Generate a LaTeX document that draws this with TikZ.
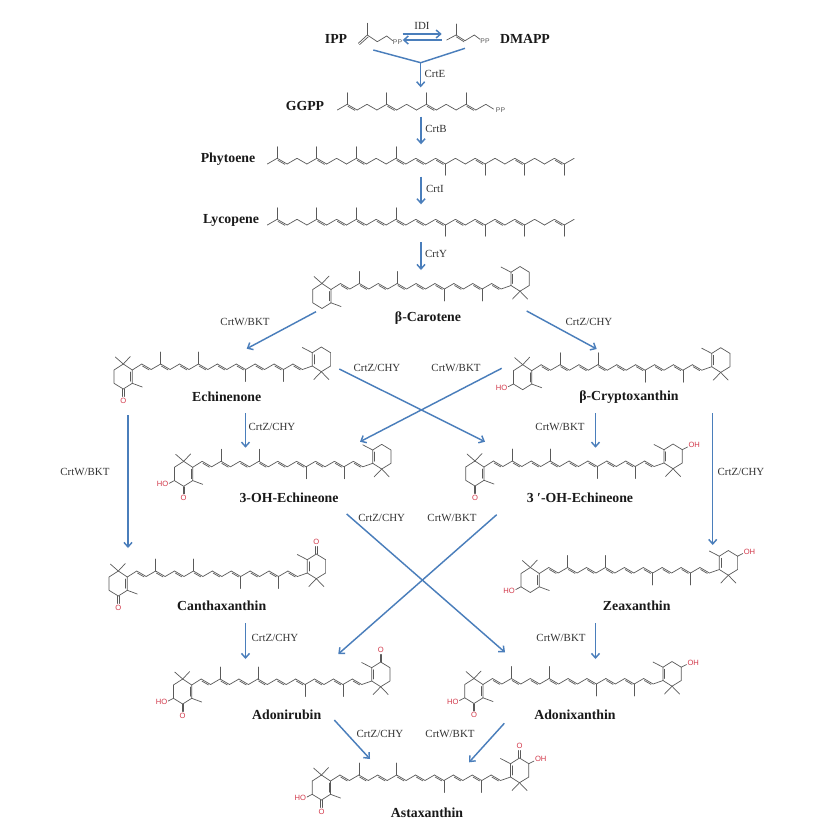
\documentclass[tikz,border=0pt]{standalone}
\usepackage{fontspec}
\setmainfont{Liberation Serif}
\newfontfamily\atomfont{Liberation Sans}
\usetikzlibrary{arrows.meta}
\definecolor{bondgrey}{HTML}{5A5A5A}
\definecolor{flowblue}{HTML}{4A7EBB}
\definecolor{atomred}{HTML}{D2384A}
\tikzset{
  x=1pt,y=-1pt,
  bond/.style={draw=bondgrey,line width=0.7pt,line cap=round,line join=round},
  flowline/.style={draw=flowblue,line width=1.45pt},
  flowarrow/.style={flowline,-{Straight Barb[length=4.5pt,width=8pt,line width=1.45pt]}},
  enz/.style={font=\fontsize{10.9}{12}\selectfont,text=black!80,inner sep=0pt},
  mol/.style={font=\bfseries\fontsize{13.8}{15}\selectfont,text=black!90,inner sep=0pt},
  atom/.style={font=\atomfont\fontsize{7.6}{9}\selectfont,text=atomred,inner sep=0pt},
  ppn/.style={font=\atomfont\fontsize{6.8}{8}\selectfont,text=bondgrey,inner sep=0pt},
}
% arrow between named end points
\newcommand\flow[5]{\coordinate (#1s) at (#2,#3);\coordinate (#1e) at (#4,#5);\draw[flowarrow] (#1s) -- (#1e);}
% carotenoid: name, x, y, left C=O, left OH, right C=O, right OH
\newcommand\carot[7]{%
\begin{scope}[shift={(#2,#3)}]
  % polyene chain
  \draw[bond] (0,0) -- (9.45,-6);
  \foreach \i in {1,3,...,17}{%
    \pgfmathsetmacro\xa{\i*9.45}%
    \pgfmathsetmacro\xb{(\i+1)*9.45}%
    \pgfmathsetmacro\xc{(\i+2)*9.45}%
    \pgfmathsetmacro\ye{\i==17?-4:-6}%
    \pgfmathsetmacro\xe{\i==17?180:\xc}%
    \draw[bond] (\xa,-6) -- (\xb,-0.5) -- (\xe,\ye);
    \draw[bond] (\xa+0.72,-3.97) -- (\xa+7.33,-0.12);
  }
  \foreach \i in {3,7}{\draw[bond] (\i*9.45,-6) -- (\i*9.45,-18);}
  \foreach \i in {12,16}{\draw[bond] (\i*9.45,-0.5) -- (\i*9.45,11.5);}
  % left ring
  \draw[bond] (0,0) -- (-9,-6) -- (-18.3,0) -- (-18.3,13.3) -- (-9,19) -- (0,13.3) -- cycle;
  \draw[bond] (-1.6,2) -- (-1.6,11.3);
  \draw[bond] (0,13.3) -- (10,17);
  \draw[bond] (-9,-6) -- (-17,-13);
  \draw[bond] (-9,-6) -- (-2,-13.5);
  \ifnum#4=1
    \draw[bond] (-9.8,19.4) -- (-9.8,26.5);
    \draw[bond] (-8.2,19.4) -- (-8.2,26.5);
    \node[atom] (#1-lo) at (-9,30.8) {O};
  \fi
  \ifnum#5=1
    \draw[bond] (-18.3,13.3) -- (-23.5,16);
    \node[atom] (#1-loh) at (-30.2,17) {HO};
  \fi
  % right ring
  \draw[bond] (180,-4) -- (189,1.7) -- (198.3,-4) -- (198.3,-17.3) -- (189,-23) -- (180,-17.3) -- cycle;
  \draw[bond] (181.6,-6) -- (181.6,-15.3);
  \draw[bond] (180,-17.3) -- (170,-22.5);
  \draw[bond] (189,1.7) -- (181.5,9.5);
  \draw[bond] (189,1.7) -- (196.5,9.5);
  \ifnum#6=1
    \draw[bond] (188.2,-23.4) -- (188.2,-30.5);
    \draw[bond] (189.8,-23.4) -- (189.8,-30.5);
    \node[atom] (#1-ro) at (189,-34.8) {O};
  \fi
  \ifnum#7=1
    \draw[bond] (198.3,-17.3) -- (203.5,-20);
    \node[atom] (#1-roh) at (210.2,-22) {OH};
  \fi
\end{scope}}
% open chain: x0, y of high atoms, last index, double-bond atoms, methyls up, methyls down
\newcommand\zigzag[6]{%
\begin{scope}[shift={(#1,#2)}]
  \foreach \i in {1,...,#3}{%
    \pgfmathsetmacro\xa{(\i-1)*9.9}%
    \pgfmathsetmacro\xb{\i*9.9}%
    \pgfmathsetmacro\ya{mod(\i,2)==1?5.7:0}%
    \pgfmathsetmacro\yb{mod(\i,2)==1?0:5.7}%
    \draw[bond] (\xa,\ya) -- (\xb,\yb);
  }
  \foreach \i in {#4}{\draw[bond] (\i*9.9+0.78,2.05) -- (\i*9.9+7.7,6.05);}
  \foreach \i in {#5}{\draw[bond] (\i*9.9,0) -- (\i*9.9,-11.5);}
  \foreach \i in {#6}{\draw[bond] (\i*9.9,5.7) -- (\i*9.9,17);}
\end{scope}}
\begin{document}
\begin{tikzpicture}
\useasboundingbox[fill=white] (0,0) rectangle (832,831);

% IPP and DMAPP
\draw[bond] (358.3,43.3) -- (367.3,35) -- (377.3,41.7) -- (386.7,36) -- (392.7,40.7);
\draw[bond] (359.6,44.6) -- (368.3,36.8);
\draw[bond] (367.3,35) -- (367.3,23.3);
\node[ppn] (ipppp) at (397.5,41.8) {PP};
\draw[bond] (446.7,40) -- (456,35) -- (465,40.7) -- (474.3,35) -- (480,39.3);
\draw[bond] (456.3,36.8) -- (464,41.8);
\draw[bond] (456,35) -- (456,24);
\node[ppn] (dmapppp) at (485,41) {PP};

% GGPP
\zigzag{337.3}{104.3}{15}{1,5,9,13}{1,5,9,13}{}
\draw[bond] (485.8,104.3) -- (493.5,109);
\node[ppn] (ggpppp) at (500.5,110) {PP};

% Phytoene and lycopene
\zigzag{267.3}{158.3}{31}{1,5,9,13,15,17,21,25,29}{1,5,9,13}{18,22,26,30}
\zigzag{267.3}{219.3}{31}{1,5,7,9,11,13,15,17,19,21,23,25,29}{1,5,9,13}{18,22,26,30}

% Carotenoids
\carot{bcar}{331}{289.5}{0}{0}{0}{0}
\carot{echi}{132.3}{370}{1}{0}{0}{0}
\carot{bcry}{531.7}{370.7}{0}{1}{0}{0}
\carot{tohe}{192.7}{467.3}{1}{1}{0}{0}
\carot{pohe}{484}{467}{1}{0}{0}{1}
\carot{cant}{127.3}{577}{1}{0}{1}{0}
\carot{zeax}{539.3}{573.5}{0}{1}{0}{1}
\carot{adru}{191.7}{685}{1}{1}{1}{0}
\carot{adxa}{483}{684.5}{1}{1}{0}{1}
\carot{asta}{330.5}{781}{1}{1}{1}{1}

% Molecule names
\node[mol] (nipp) at (336,39) {IPP};
\node[mol] (ndma) at (525,39) {DMAPP};
\node[mol] (nggp) at (305,106) {GGPP};
\node[mol] (nphy) at (228,159) {Phytoene};
\node[mol] (nlyc) at (231,220) {Lycopene};
\node[mol] (nbca) at (428,318) {β-Carotene};
\node[mol] (nech) at (226.7,397) {Echinenone};
\node[mol] (nbcr) at (629,397) {β-Cryptoxanthin};
\node[mol] (ntoh) at (289,497.7) {3-OH-Echineone};
\node[mol] (npoh) at (580,497.7) {3 ′-OH-Echineone};
\node[mol] (ncan) at (221.7,605.7) {Canthaxanthin};
\node[mol] (nzea) at (636.7,605.7) {Zeaxanthin};
\node[mol] (nadr) at (286.7,714.7) {Adonirubin};
\node[mol] (nadx) at (575,714.7) {Adonixanthin};
\node[mol] (nast) at (427,813) {Astaxanthin};

% Enzyme labels
\node[enz] (e01) at (422,26) {IDI};
\node[enz] (e02) at (435,74) {CrtE};
\node[enz] (e03) at (436,129.3) {CrtB};
\node[enz] (e04) at (435,188.7) {CrtI};
\node[enz] (e05) at (436,254) {CrtY};
\node[enz] (e06) at (245,322) {CrtW/BKT};
\node[enz] (e07) at (589,322) {CrtZ/CHY};
\node[enz] (e08) at (377,368) {CrtZ/CHY};
\node[enz] (e09) at (456,368) {CrtW/BKT};
\node[enz] (e10) at (85,472) {CrtW/BKT};
\node[enz] (e11) at (272,427) {CrtZ/CHY};
\node[enz] (e12) at (560,427) {CrtW/BKT};
\node[enz] (e13) at (741,472) {CrtZ/CHY};
\node[enz] (e14) at (381.7,518.3) {CrtZ/CHY};
\node[enz] (e15) at (452,518.3) {CrtW/BKT};
\node[enz] (e16) at (275,638) {CrtZ/CHY};
\node[enz] (e17) at (561,638) {CrtW/BKT};
\node[enz] (e18) at (380,734) {CrtZ/CHY};
\node[enz] (e19) at (450,734) {CrtW/BKT};

% Arrows
\flow{idif}{402.7}{34}{441.7}{34}
\flow{idib}{441.7}{40}{402.7}{40}
\coordinate (vl) at (373.3,50);
\coordinate (vr) at (465,48.3);
\coordinate (vj) at (420.7,62.7);
\draw[flowline,line join=round] (vl) -- (vj) -- (vr);
\coordinate (ve) at (420.7,87.3);
\draw[flowarrow] (vj) -- (ve);
\flow{crtb}{421}{116.7}{421}{144.3}
\flow{crti}{421}{176.7}{421}{204.3}
\flow{crty}{421}{242.3}{421}{270}
\flow{a1}{316}{311.7}{246.7}{348.7}
\flow{a2}{526.7}{311}{596.7}{349}
\flow{a3}{339.3}{369}{485}{441.7}
\flow{a4}{501.7}{368.3}{360}{441.7}
\flow{a5}{128}{415}{128}{548}
\flow{a6}{245.5}{413}{245.5}{447.7}
\flow{a7}{595.5}{413}{595.5}{447.7}
\flow{a8}{712.7}{413}{712.7}{545}
\flow{a9}{346.7}{514}{505}{652.3}
\flow{a10}{496.7}{514.7}{338.3}{654}
\flow{a11}{245.5}{623}{245.5}{659}
\flow{a12}{595.5}{623}{595.5}{659}
\flow{a13}{334.3}{720}{370}{759}
\flow{a14}{504.3}{723.3}{469}{762.3}
\end{tikzpicture}
\end{document}
